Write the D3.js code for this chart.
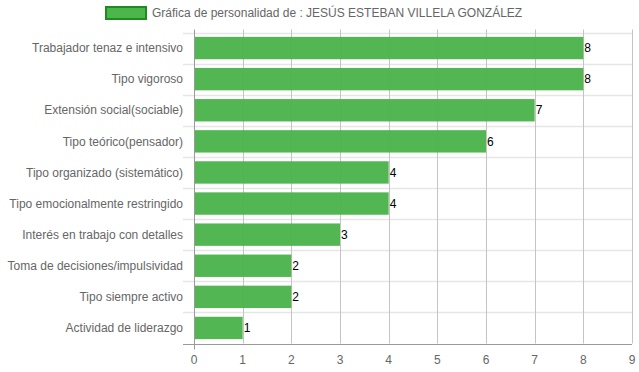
<!DOCTYPE html>
<html>
<head>
<meta charset="utf-8">
<script src="https://cdn.jsdelivr.net/npm/d3@7/dist/d3.min.js"></script>
<style>
  html, body { margin: 0; padding: 0; background: #ffffff; }
  svg { display: block; font-family: "Liberation Sans", Arial, Helvetica, sans-serif; }
</style>
</head>
<body>
<div id="chart"></div>
<script>
const categories = [
  "Trabajador tenaz e intensivo",
  "Tipo vigoroso",
  "Extensión social(sociable)",
  "Tipo teórico(pensador)",
  "Tipo organizado (sistemático)",
  "Tipo emocionalmente restringido",
  "Interés en trabajo con detalles",
  "Toma de decisiones/impulsividad",
  "Tipo siempre activo",
  "Actividad de liderazgo"
];
const values = [8, 8, 7, 6, 4, 4, 3, 2, 2, 1];
const xTicks = [0, 1, 2, 3, 4, 5, 6, 7, 8, 9];
const legendLabel = "Gráfica de personalidad de : JESÚS ESTEBAN VILLELA GONZÁLEZ";

const palette = {
  bar: "#4cb54c",
  barEdge: "#1e8c1e",
  text: "#666666",
  value: "#000000",
  gridV: "#c4c4c4",
  gridH: "#e6e6e6",
  axis: "#9a9a9a"
};

const width = 639;
const height = 372;
const margin = { top: 32.5, right: 7, bottom: 28.5, left: 194 };

const svg = d3.select("#chart")
  .append("svg")
  .attr("width", width)
  .attr("height", height);

const x = d3.scaleLinear()
  .domain([0, 9])
  .range([margin.left, width - margin.right]);

const y = d3.scaleBand()
  .domain(categories)
  .range([margin.top, height - margin.bottom])
  .paddingInner(0.28)
  .paddingOuter(0.14);

const band = d3.scaleBand()
  .domain(categories)
  .range([margin.top, height - margin.bottom]);

// horizontal grid lines at category boundaries
const bounds = categories.map((c) => band(c));
svg.append("g")
  .selectAll("line")
  .data(bounds)
  .join("line")
  .attr("x1", margin.left - 11)
  .attr("x2", width - margin.right)
  .attr("y1", (d) => Math.round(d) + 0.5)
  .attr("y2", (d) => Math.round(d) + 0.5)
  .attr("stroke", palette.gridH)
  .attr("stroke-width", 1.5);

// vertical grid lines
svg.append("g")
  .selectAll("line")
  .data(xTicks.slice(1))
  .join("line")
  .attr("x1", (d) => Math.round(x(d)) + 0.5)
  .attr("x2", (d) => Math.round(x(d)) + 0.5)
  .attr("y1", margin.top - 3)
  .attr("y2", height - margin.bottom)
  .attr("stroke", palette.gridV)
  .attr("stroke-width", 1);

// bars
svg.append("g")
  .selectAll("rect")
  .data(values)
  .join("rect")
  .attr("x", x(0))
  .attr("y", (d, i) => y(categories[i]))
  .attr("width", (d) => x(d) - x(0))
  .attr("height", y.bandwidth())
  .attr("fill", palette.bar)
  .attr("fill-opacity", 0.97);

// axis lines
svg.append("line")
  .attr("x1", Math.round(x(0)) + 0.5)
  .attr("x2", Math.round(x(0)) + 0.5)
  .attr("y1", margin.top - 3)
  .attr("y2", height - margin.bottom + 6)
  .attr("stroke", palette.axis);

svg.append("line")
  .attr("x1", margin.left - 11)
  .attr("x2", width - margin.right)
  .attr("y1", Math.round(height - margin.bottom) + 0.5)
  .attr("y2", Math.round(height - margin.bottom) + 0.5)
  .attr("stroke", palette.axis);

// x tick labels
svg.append("g")
  .selectAll("text")
  .data(xTicks)
  .join("text")
  .attr("x", (d) => x(d))
  .attr("y", height - margin.bottom + 20)
  .attr("text-anchor", "middle")
  .attr("fill", palette.text)
  .attr("font-size", 12)
  .text((d) => d);

// category labels
svg.append("g")
  .selectAll("text")
  .data(categories)
  .join("text")
  .attr("x", margin.left - 11)
  .attr("y", (d) => band(d) + band.bandwidth() / 2)
  .attr("dy", "0.35em")
  .attr("text-anchor", "end")
  .attr("fill", palette.text)
  .attr("font-size", 12)
  .text((d) => d);

// value labels
svg.append("g")
  .selectAll("text")
  .data(values)
  .join("text")
  .attr("x", (d) => x(d) + 1)
  .attr("y", (d, i) => band(categories[i]) + band.bandwidth() / 2)
  .attr("dy", "0.35em")
  .attr("fill", palette.value)
  .attr("font-size", 12)
  .text((d) => d);

// legend
const legend = svg.append("g").attr("transform", "translate(105,6)");
legend.append("rect")
  .attr("x", 1)
  .attr("y", 1)
  .attr("width", 40)
  .attr("height", 12)
  .attr("fill", palette.bar)
  .attr("stroke", palette.barEdge)
  .attr("stroke-width", 2);
legend.append("text")
  .attr("x", 47)
  .attr("y", 7)
  .attr("dy", "0.35em")
  .attr("fill", palette.text)
  .attr("font-size", 12)
  .text(legendLabel);
</script>
</body>
</html>
